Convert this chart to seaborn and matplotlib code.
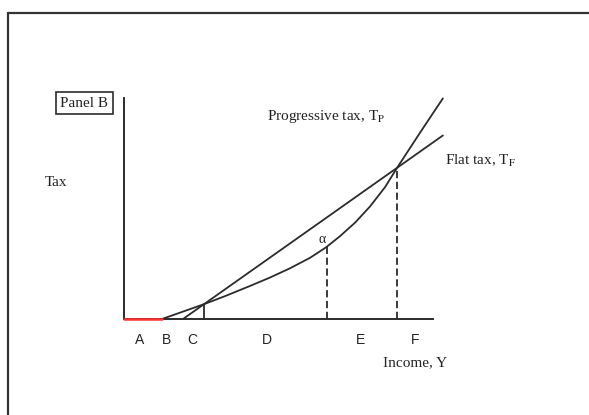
import numpy as np
import seaborn as sns
import matplotlib.pyplot as plt
from matplotlib.lines import Line2D

# income axis runs 0..10, tax axis 0..7.15 (same units on both)
axis_x_end = 10.0
axis_y_end = 7.15

# flat tax line, starts at the exemption point
flat_x = [1.91, 10.32]
flat_y = [0.0, 5.94]

# progressive tax curve
prog_x = [1.23, 1.91, 2.59, 3.27, 4.08, 4.72, 5.37, 6.02, 6.54, 6.99,
          7.48, 7.96, 8.45, 8.83, 9.26, 9.68, 10.32]
prog_y = [0.0, 0.24, 0.48, 0.74, 1.07, 1.34, 1.64, 1.98, 2.32, 2.68,
          3.12, 3.64, 4.27, 4.88, 5.54, 6.18, 7.14]

# zero-tax band A..B
red_x = [0.0, 1.23]
red_y = [0.0, 0.0]

# vertical markers: C (solid), alpha and F (dashed)
c_x, c_y = 2.59, 0.48
alpha_x, alpha_y = 6.57, 2.34
f_x, f_y = 8.83, 4.88

seg_labels = ['A', 'B', 'C', 'D', 'E', 'F']
seg_pos = [0.52, 1.39, 2.20, 4.63, 7.64, 9.42]

sns.set_style("white")
plt.rcParams['font.family'] = ['Liberation Serif', 'DejaVu Serif']
plt.rcParams['mathtext.fontset'] = 'stix'

fig = plt.figure(figsize=(5.89, 4.15), dpi=100)
ax = fig.add_axes([0, 0, 1, 1])
px = 30.9
ax.set_xlim(-124 / px, (589 - 124) / px)
ax.set_ylim(-(415 - 319) / px, 319 / px)

ink = '#2b2b2b'

# axes as spines at the origin
for s in ['top', 'right']:
    ax.spines[s].set_visible(False)
ax.spines['left'].set_position(('data', 0))
ax.spines['bottom'].set_position(('data', 0))
ax.spines['left'].set_bounds(0, axis_y_end)
ax.spines['bottom'].set_bounds(0, axis_x_end)
for s in ['left', 'bottom']:
    ax.spines[s].set_color(ink)
    ax.spines[s].set_linewidth(1.4)
ax.set_xticks([])
ax.set_yticks([])

sns.lineplot(x=flat_x, y=flat_y, color=ink, lw=1.3, ax=ax, sort=False, estimator=None)
sns.lineplot(x=prog_x, y=prog_y, color=ink, lw=1.3, ax=ax, sort=False, estimator=None)
sns.lineplot(x=red_x, y=red_y, color='#ff3333', lw=1.8, ax=ax, sort=False,
             estimator=None, zorder=5)

ax.plot([c_x, c_x], [0, c_y], color=ink, lw=1.3)
ax.plot([alpha_x, alpha_x], [0, alpha_y], color=ink, lw=1.3, ls=(0, (4, 2)))
ax.plot([f_x, f_x], [0, f_y], color=ink, lw=1.3, ls=(0, (4, 2)))

for lab, xp in zip(seg_labels, seg_pos):
    ax.text(xp, -0.68, lab, ha='center', va='center', fontsize=10,
            family=['Liberation Sans', 'DejaVu Sans'], color='#222222')

ax.text(-2.56, 4.43, 'Tax', ha='left', va='center', fontsize=11, color='#222222')
ax.text(-1.29, 6.99, 'Panel B', ha='center', va='center', fontsize=11, color='#222222',
        bbox=dict(boxstyle='square,pad=0.3', fc='white', ec=ink, lw=1.2))
ax.text(4.63, 6.54, r'Progressive tax, T$_{\mathrm{P}}$', ha='left', va='center',
        fontsize=11, color='#222222')
ax.text(10.39, 5.11, r'Flat tax, T$_{\mathrm{F}}$', ha='left', va='center',
        fontsize=11, color='#222222')
ax.text(8.38, -1.42, 'Income, Y', ha='left', va='center', fontsize=11, color='#222222')
ax.text(6.41, 2.56, 'α', ha='center', va='center', fontsize=10, color='#222222')

# outer frame (runs off the right and bottom of the image)
fx0 = 8 / 589
fy1 = 1 - 13 / 415
fig.add_artist(Line2D([fx0, fx0], [0, fy1], color='#333333', lw=1.6, transform=fig.transFigure))
fig.add_artist(Line2D([fx0, 1], [fy1, fy1], color='#333333', lw=1.6, transform=fig.transFigure))

fig.savefig('out.png', dpi=100, facecolor='white')
